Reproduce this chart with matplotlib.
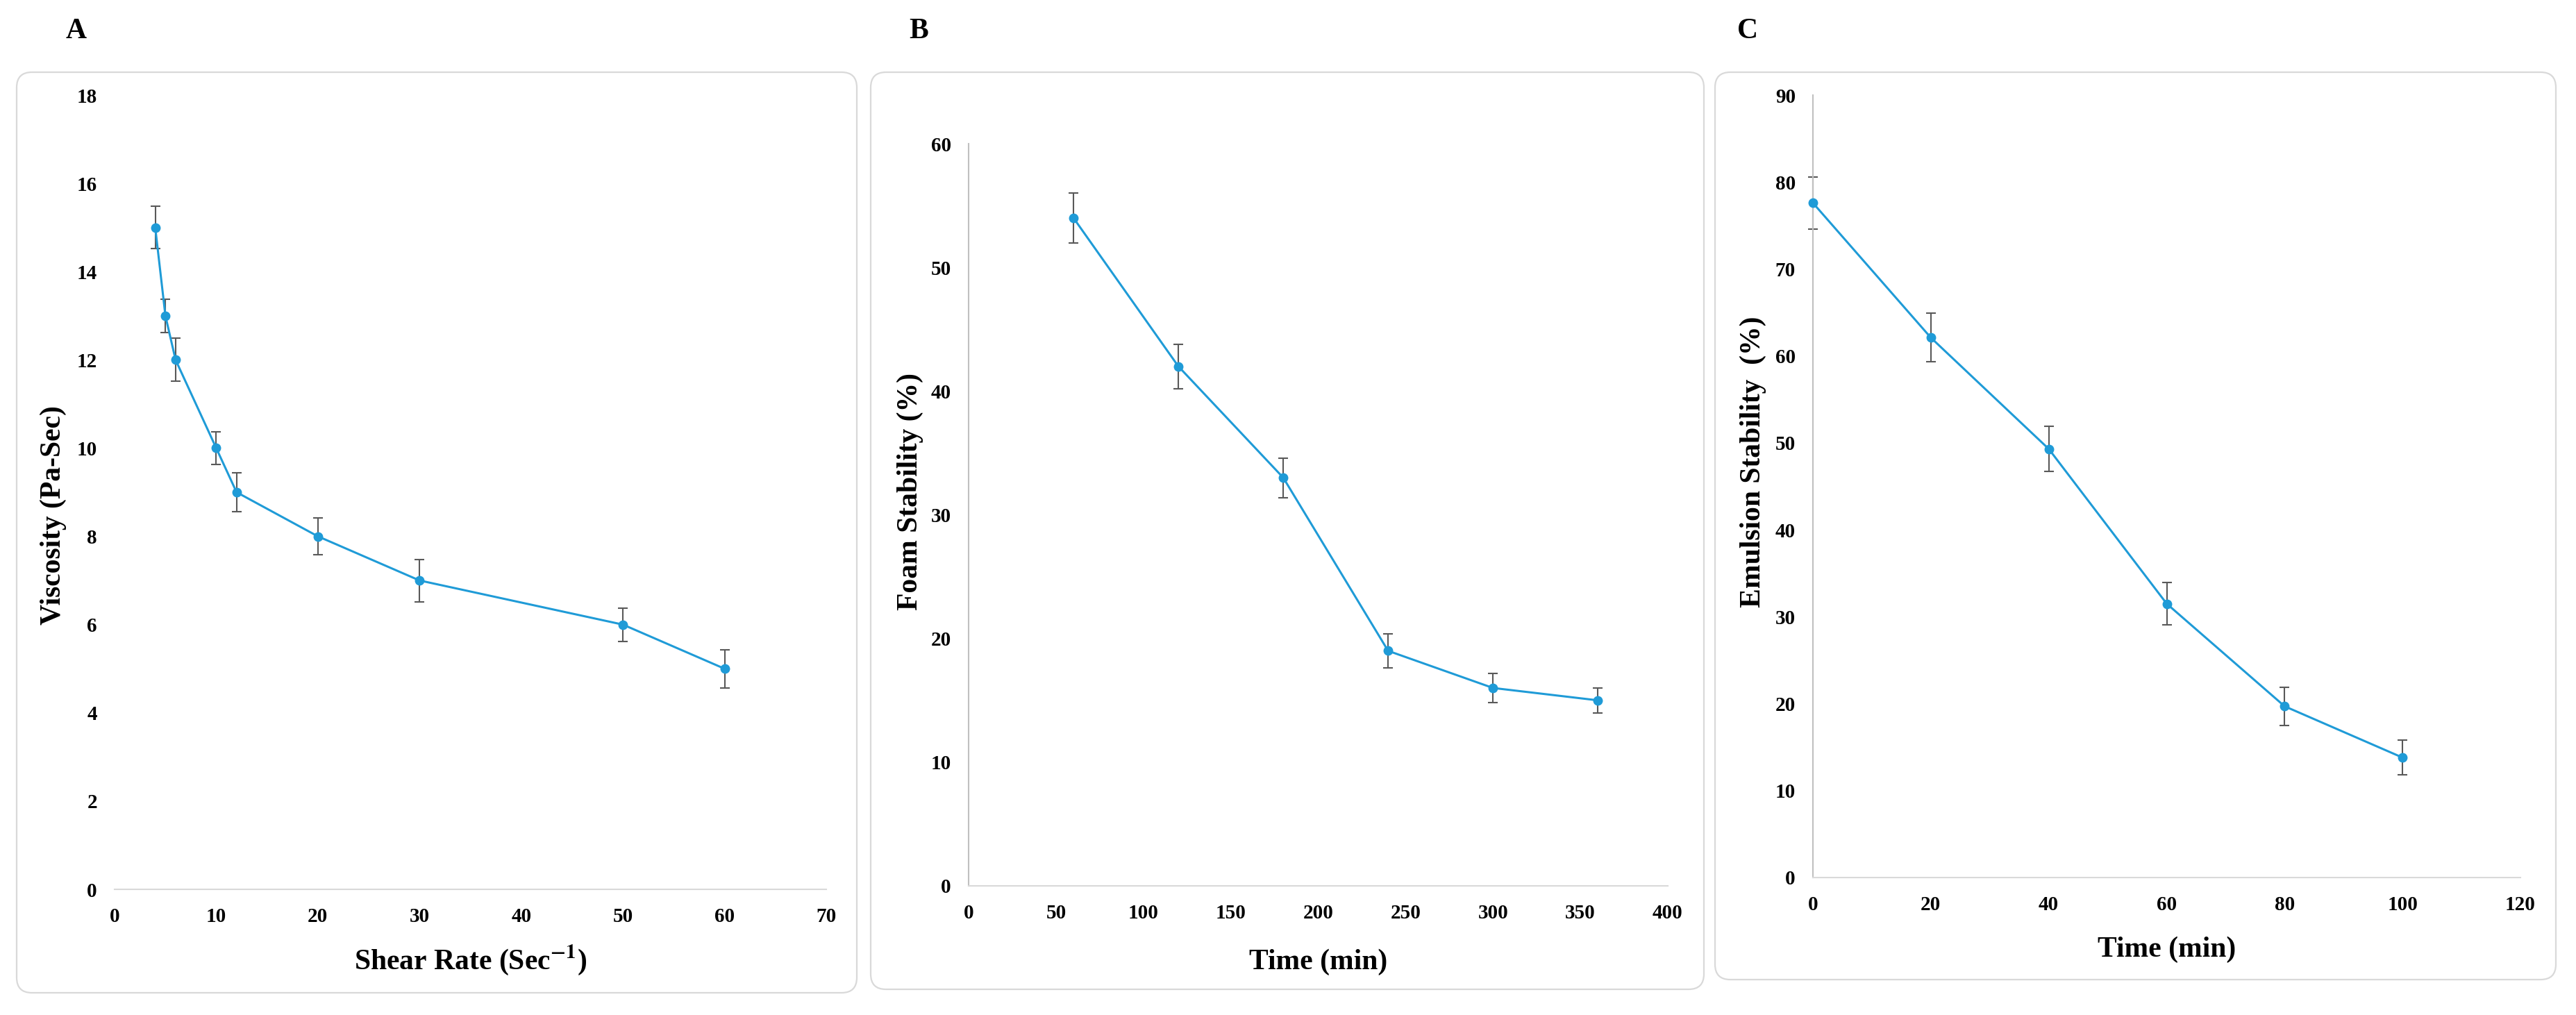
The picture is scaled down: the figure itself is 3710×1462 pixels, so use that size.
import numpy as np
import matplotlib
matplotlib.use("Agg")
import matplotlib.pyplot as plt
from matplotlib.patches import FancyBboxPatch

plt.rcParams['font.family'] = ['Liberation Serif', 'DejaVu Serif']
plt.rcParams['font.weight'] = 'bold'
plt.rcParams['mathtext.fontset'] = 'stix'

# panel A - viscosity
shear_rate = [4, 5, 6, 10, 12, 20, 30, 50, 60]
viscosity = [15, 13, 12, 10, 9, 8, 7, 6, 5]
viscosity_err = [0.48, 0.38, 0.49, 0.37, 0.44, 0.42, 0.48, 0.38, 0.43]

# panel B - foam stability
foam_time = [60, 120, 180, 240, 300, 360]
foam_stab = [54, 42, 33, 19, 16, 15]
foam_err = [2.0, 1.8, 1.6, 1.4, 1.2, 1.0]

# panel C - emulsion stability
emul_time = [0, 20, 40, 60, 80, 100]
emul_stab = [77.6, 62.1, 49.3, 31.5, 19.7, 13.8]
emul_err = [3.0, 2.8, 2.6, 2.4, 2.2, 2.0]

W, H = 3710, 1462
fig = plt.figure(figsize=(W / 100, H / 100), dpi=100)

# background layer for the rounded frames (pixel units)
bg = fig.add_axes([0, 0, 1, 1], zorder=-1)
bg.set_xlim(0, W)
bg.set_ylim(H, 0)
bg.axis('off')
frames = [(24, 104, 1234, 1430), (1254, 104, 2454, 1425), (2470, 104, 3681, 1411)]
for x0, y0, x1, y1 in frames:
    bg.add_patch(FancyBboxPatch((x0, y0), x1 - x0, y1 - y0,
                                boxstyle="round,pad=0,rounding_size=22",
                                fc='white', ec='#d9d9d9', lw=1.6))

blue = '#1f9bd7'
errc = '#595959'


def make_axes(px):
    l, r, b, t = px
    return fig.add_axes([l / W, 1 - b / H, (r - l) / W, (b - t) / H])


def style(ax, xmax, xstep, ymax, ystep, left_spine):
    ax.set_xlim(0, xmax)
    ax.set_ylim(0, ymax)
    ax.set_xticks(np.arange(0, xmax + 1, xstep))
    ax.set_yticks(np.arange(0, ymax + 1, ystep))
    ax.set_facecolor('none')
    for s in ['top', 'right']:
        ax.spines[s].set_visible(False)
    ax.spines['bottom'].set_color('#d9d9d9')
    ax.spines['bottom'].set_linewidth(1.5)
    if left_spine:
        ax.spines['left'].set_color('#c0c0c0')
        ax.spines['left'].set_linewidth(1.5)
    else:
        ax.spines['left'].set_visible(False)
    ax.tick_params(axis='both', length=0, labelsize=21)
    ax.tick_params(axis='y', pad=18)
    ax.tick_params(axis='x', pad=19)
    for lab in ax.get_xticklabels() + ax.get_yticklabels():
        lab.set_fontweight('bold')


def draw(ax, x, y, e):
    eb = ax.errorbar(x, y, yerr=e, fmt='none', ecolor=errc, elinewidth=1.5,
                     capsize=5, capthick=1.5, zorder=2)
    for art in eb.lines[1] + eb.lines[2]:
        art.set_clip_on(False)
    ax.plot(x, y, color=blue, lw=2.2, marker='o', ms=9, zorder=3, clip_on=False)


# A
axA = make_axes((165, 1190, 1281, 137))
draw(axA, shear_rate, viscosity, viscosity_err)
style(axA, 70, 10, 18, 2, False)
axA.set_xlabel('Shear Rate (Sec$^{\\mathbf{-1}}$)', fontsize=30, fontweight='bold')
axA.set_ylabel('Viscosity (Pa-Sec)', fontsize=30, fontweight='bold')
axA.xaxis.set_label_coords(0.5, -0.089)
axA.yaxis.set_label_coords(-0.086, 0.471)

# B
axB = make_axes((1395, 2402, 1276, 207))
draw(axB, foam_time, foam_stab, foam_err)
style(axB, 400, 50, 60, 10, True)
axB.set_xlabel('Time (min)', fontsize=30, fontweight='bold')
axB.set_ylabel('Foam Stability (%)', fontsize=30, fontweight='bold')
axB.xaxis.set_label_coords(0.5, -0.103)
axB.yaxis.set_label_coords(-0.084, 0.531)

# C
axC = make_axes((2611, 3630, 1264, 137))
draw(axC, emul_time, emul_stab, emul_err)
style(axC, 120, 20, 90, 10, True)
axC.set_xlabel('Time (min)', fontsize=30, fontweight='bold')
axC.set_ylabel('Emulsion Stability  (%)', fontsize=30, fontweight='bold')
axC.xaxis.set_label_coords(0.5, -0.092)
axC.yaxis.set_label_coords(-0.085, 0.531)

for ax in (axA, axB, axC):
    ax.xaxis.label.set_va('center')
    ax.yaxis.label.set_va('center')

for letter, px in [('A', 110), ('B', 1323), ('C', 2517)]:
    fig.text(px / W, 1 - 45 / H, letter, fontsize=30, fontweight='bold',
             ha='center', va='center')

fig.savefig('out.png', dpi=100)
